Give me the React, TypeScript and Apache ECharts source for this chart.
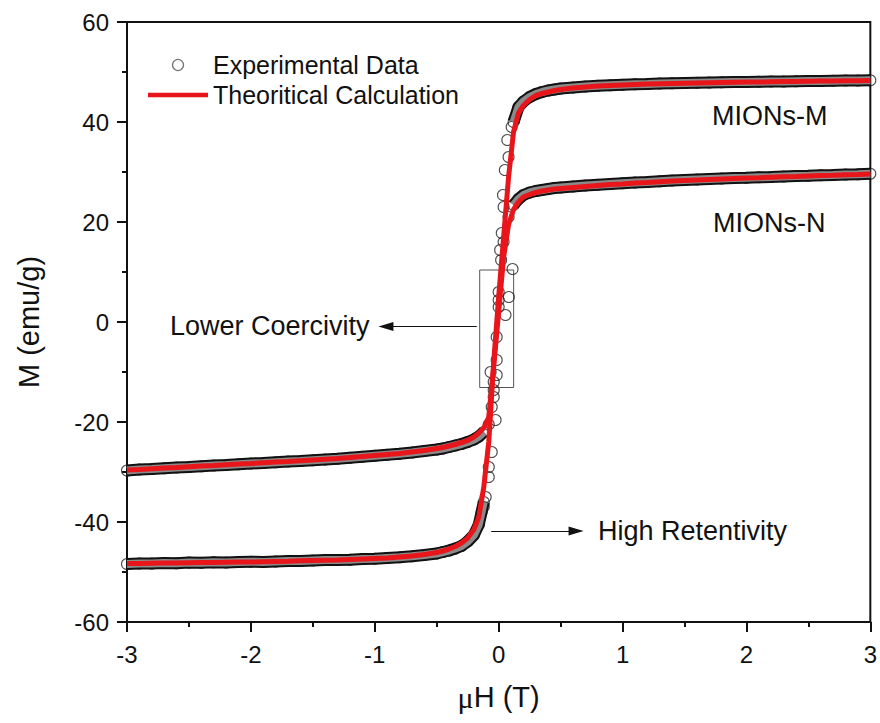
import React, { useEffect, useRef } from "react";
import * as echarts from "echarts";

// Applied field μH (T), shared sampling grid
const fieldT = [
  -3.0, -2.9, -2.8, -2.7, -2.6, -2.5, -2.4, -2.3, -2.2, -2.1, -2.0, -1.9, -1.8, -1.7, -1.6, -1.5, -1.4, -1.3, -1.2, -1.1, -1.0, -0.9, -0.8, -0.7, -0.6, -0.5,
  -0.45, -0.4, -0.35, -0.3, -0.25, -0.2,
  -0.16, -0.12, -0.08, -0.04,
  0,
  0.04, 0.08, 0.12, 0.16,
  0.2, 0.25, 0.3, 0.35, 0.4, 0.45,
  0.5, 0.6, 0.7, 0.8, 0.9, 1.0, 1.1, 1.2, 1.3, 1.4, 1.5, 1.6, 1.7, 1.8, 1.9, 2.0, 2.1, 2.2, 2.3, 2.4, 2.5, 2.6, 2.7, 2.8, 2.9, 3.0,
];

// Theoretical calculation (emu/g)
const theoryM = [
  -48.3, -48.3, -48.25, -48.2, -48.2, -48.15, -48.1, -48.1, -48.05, -48.0, -48.0, -47.95, -47.9, -47.85, -47.75, -47.7, -47.65, -47.6, -47.5, -47.4, -47.3, -47.2, -47.0, -46.8, -46.5, -46.1,
  -45.8, -45.4, -44.9, -44.2, -43.2, -41.5,
  -39.0, -33.0, -24.0, -8.0,
  5.0,
  17.0, 29.0, 38.0, 41.8,
  43.3, 44.5, 45.3, 45.7, 46.0, 46.3,
  46.5, 46.8, 47.0, 47.2, 47.3, 47.4, 47.5, 47.6, 47.65, 47.7, 47.75, 47.8, 47.85, 47.9, 47.95, 48.0, 48.0, 48.05, 48.1, 48.1, 48.15, 48.2, 48.2, 48.25, 48.25, 48.3,
];
const theoryN = [
  -29.6, -29.5, -29.35, -29.2, -29.1, -28.95, -28.8, -28.7, -28.55, -28.4, -28.3, -28.15, -28.0, -27.9, -27.75, -27.6, -27.45, -27.3, -27.1, -26.9, -26.7, -26.5, -26.3, -26.0, -25.7, -25.3,
  -25.1, -24.8, -24.5, -24.1, -23.7, -23.0,
  -22.2, -21.2, -19.0, -9.0,
  2.0,
  13.0, 19.5, 22.5, 24.0,
  25.0, 25.5, 25.9, 26.2, 26.4, 26.6,
  26.7, 26.9, 27.1, 27.3, 27.5, 27.6, 27.8, 27.9, 28.05, 28.2, 28.3, 28.4, 28.5, 28.6, 28.7, 28.8, 28.85, 28.95, 29.05, 29.1, 29.2, 29.3, 29.35, 29.45, 29.5, 29.6,
];

// Experimental data on the same grid (emu/g)
const expM = [
  -48.4, -48.3, -48.3, -48.2, -48.25, -48.1, -48.15, -48.05, -48.1, -48.0, -47.95, -48.0, -47.9, -47.8, -47.8, -47.7, -47.6, -47.6, -47.55, -47.4, -47.35, -47.2, -47.05, -46.85, -46.6, -46.3,
  -46.0, -45.7, -45.3, -44.8, -43.9, -42.6,
  -40.5, -36.0, -29.0, -15.0,
  3.0,
  23.0, 33.0, 40.0, 43.0,
  44.1, 45.0, 45.6, 46.0, 46.3, 46.5,
  46.7, 46.9, 47.1, 47.25, 47.35, 47.45, 47.55, 47.6, 47.7, 47.75, 47.8, 47.85, 47.9, 47.95, 48.0, 48.0, 48.05, 48.1, 48.1, 48.15, 48.2, 48.2, 48.25, 48.3, 48.3, 48.35,
];
const expN = [
  -29.7, -29.5, -29.4, -29.25, -29.1, -29.0, -28.85, -28.7, -28.6, -28.45, -28.3, -28.2, -28.05, -27.9, -27.8, -27.65, -27.5, -27.35, -27.15, -26.95, -26.75, -26.55, -26.35, -26.1, -25.8, -25.5,
  -25.3, -25.0, -24.7, -24.4, -24.0, -23.5,
  -22.9, -22.0, -20.5, -12.0,
  6.0,
  16.0, 21.0, 23.4, 24.6,
  25.4, 25.9, 26.2, 26.4, 26.6, 26.8,
  26.9, 27.1, 27.3, 27.45, 27.6, 27.75, 27.9, 28.0, 28.15, 28.3, 28.4, 28.5, 28.6, 28.7, 28.8, 28.85, 28.95, 29.0, 29.1, 29.2, 29.25, 29.35, 29.4, 29.5, 29.55, 29.65,
];

// Scattered experimental points of the loop branches in the steep region
const loopH = [0.105, 0.07, 0.05, 0.035, 0.025, 0.012, 0.02, 0.112, 0.082, 0.0, 0.055, -0.016, -0.016, -0.065, -0.016, -0.04, -0.056, -0.025, -0.056, -0.08, -0.105, -0.12, -0.137];
const loopM = [39, 36.4, 30.4, 25.4, 17.8, 14.4, 12.4, 10.6, 5, 4.4, 1.4, -3, -7.6, -10, -10.6, -13.6, -17, -19.6, -26, -31, -35, -37, -38];

// Axis ticks
const xTicks = [-3, -2, -1, 0, 1, 2, 3];
const yTicks = [-60, -40, -20, 0, 20, 40, 60];

// Annotations (data coordinates)
const coercivityBox = { h0: -0.153, h1: 0.121, m0: -13.1, m1: 10.4 };
const coercivityArrow = { from: [-0.177, -0.9], to: [-0.91, -0.9] };
const retentivityArrow = { from: [-0.06, -41.8], to: [0.625, -41.8] };

const RED = "#e8151b";
const FONT = "Liberation Sans, Arial, sans-serif";

function pairs(h: number[], m: number[]) {
  return h.map((v, i) => [v, m[i]]);
}
function bandPairs(h: number[], m: number[]) {
  const out: any[] = [];
  let gapAdded = false;
  h.forEach((v, i) => {
    if (Math.abs(v) >= 0.12) out.push([v, m[i]]);
    else if (!gapAdded) {
      out.push([v, "-"]);
      gapAdded = true;
    }
  });
  return out;
}

export default function App() {
  const ref = useRef<HTMLDivElement>(null);
  useEffect(() => {
    if (!ref.current) return;
    const chart = echarts.init(ref.current, null, { renderer: "svg" });
    const bandBase = {
      type: "line",
      symbol: "none",
      silent: true,
      smooth: false,
      connectNulls: false,
    };
    const expData = pairs(fieldT, expM)
      .concat(pairs(fieldT, expN))
      .concat(pairs(loopH, loopM));
    chart.setOption({
      animation: false,
      grid: { left: 127, right: 8, top: 22, bottom: 101, show: true, borderColor: "#111", borderWidth: 2 },
      legend: {
        left: 143,
        top: 47,
        orient: "vertical",
        itemWidth: 60,
        itemHeight: 11,
        itemGap: 4,
        selectedMode: false,
        textStyle: { fontFamily: FONT, fontSize: 25, color: "#111", lineHeight: 26 },
        data: [
          { name: "Experimental Data", icon: "circle", itemStyle: { color: "rgba(255,255,255,0)", borderColor: "#555", borderWidth: 1.3 } },
          { name: "Theoritical Calculation", icon: "path://M0 0H60V4.5H0Z", itemStyle: { color: RED, borderWidth: 0 } },
        ],
      },
      xAxis: {
        type: "value",
        min: xTicks[0],
        max: xTicks[xTicks.length - 1],
        interval: 1,
        name: "{mu|μ}H (T)",
        nameLocation: "middle",
        nameGap: 60,
        nameTextStyle: {
          fontFamily: FONT,
          fontSize: 29,
          color: "#111",
          rich: { mu: { fontFamily: "Liberation Serif, serif", fontSize: 30, color: "#111" } },
        },
        axisLine: { show: true, onZero: false, lineStyle: { color: "#111", width: 2 } },
        axisTick: { show: true, inside: false, length: 10, lineStyle: { color: "#111", width: 2 } },
        minorTick: { show: true, splitNumber: 2, length: 5, lineStyle: { color: "#111", width: 2 } },
        axisLabel: { fontFamily: FONT, fontSize: 24, color: "#111", margin: 20 },
        splitLine: { show: false },
      },
      yAxis: {
        type: "value",
        min: yTicks[0],
        max: yTicks[yTicks.length - 1],
        interval: 20,
        name: "M (emu/g)",
        nameLocation: "middle",
        nameGap: 84,
        nameTextStyle: { fontFamily: FONT, fontSize: 29, color: "#111" },
        axisLine: { show: true, onZero: false, lineStyle: { color: "#111", width: 2 } },
        axisTick: { show: true, inside: false, length: 10, lineStyle: { color: "#111", width: 2 } },
        minorTick: { show: true, splitNumber: 2, length: 5, lineStyle: { color: "#111", width: 2 } },
        axisLabel: { fontFamily: FONT, fontSize: 24, color: "#111", margin: 18 },
        splitLine: { show: false },
      },
      series: [
        { ...bandBase, name: "bandOuterM", data: bandPairs(fieldT, expM), lineStyle: { color: "#111", width: 12 } },
        { ...bandBase, name: "bandOuterN", data: bandPairs(fieldT, expN), lineStyle: { color: "#111", width: 12 } },
        { ...bandBase, name: "bandInnerM", data: bandPairs(fieldT, expM), lineStyle: { color: "#8a8a8a", width: 8 } },
        { ...bandBase, name: "bandInnerN", data: bandPairs(fieldT, expN), lineStyle: { color: "#8a8a8a", width: 8 } },
        {
          type: "scatter",
          name: "Experimental Data",
          symbol: "circle",
          symbolSize: 11,
          itemStyle: { color: "rgba(255,255,255,0)", borderColor: "#222", borderWidth: 1.1 },
          data: expData,
          silent: true,
        },
        {
          type: "line",
          name: "Theoritical Calculation",
          symbol: "none",
          data: pairs(fieldT, theoryM),
          lineStyle: { color: RED, width: 5 },
          itemStyle: { color: RED },
          silent: true,
          markArea: {
            silent: true,
            itemStyle: { color: "rgba(0,0,0,0)", borderColor: "#555", borderWidth: 1 },
            data: [[{ coord: [coercivityBox.h0, coercivityBox.m1] }, { coord: [coercivityBox.h1, coercivityBox.m0] }]],
          },
          markLine: {
            silent: true,
            symbol: ["none", "triangle"],
            symbolSize: [9, 15],
            label: { show: false },
            lineStyle: { color: "#111", width: 1.2, type: "solid" },
            data: [
              [{ coord: coercivityArrow.from }, { coord: coercivityArrow.to }],
              [{ coord: retentivityArrow.from }, { coord: retentivityArrow.to }],
            ],
          },
        },
        {
          type: "line",
          name: "Theoritical Calculation",
          symbol: "none",
          data: pairs(fieldT, theoryN),
          lineStyle: { color: RED, width: 5 },
          itemStyle: { color: RED },
          silent: true,
        },
      ],
      graphic: [
        { type: "text", x: 712, y: 116, style: { text: "MIONs-M", font: `27px ${FONT}`, fill: "#111", textVerticalAlign: "middle" } },
        { type: "text", x: 713, y: 223, style: { text: "MIONs-N", font: `27px ${FONT}`, fill: "#111", textVerticalAlign: "middle" } },
        { type: "text", x: 170, y: 326, style: { text: "Lower Coercivity", font: `27px ${FONT}`, fill: "#111", textVerticalAlign: "middle" } },
        { type: "text", x: 598, y: 531, style: { text: "High Retentivity", font: `27px ${FONT}`, fill: "#111", textVerticalAlign: "middle" } },
      ],
    });
    return () => chart.dispose();
  }, []);
  return <div ref={ref} style={{ position: "absolute", left: 0, top: 0, width: 880, height: 723, background: "#fff" }} />;
}
